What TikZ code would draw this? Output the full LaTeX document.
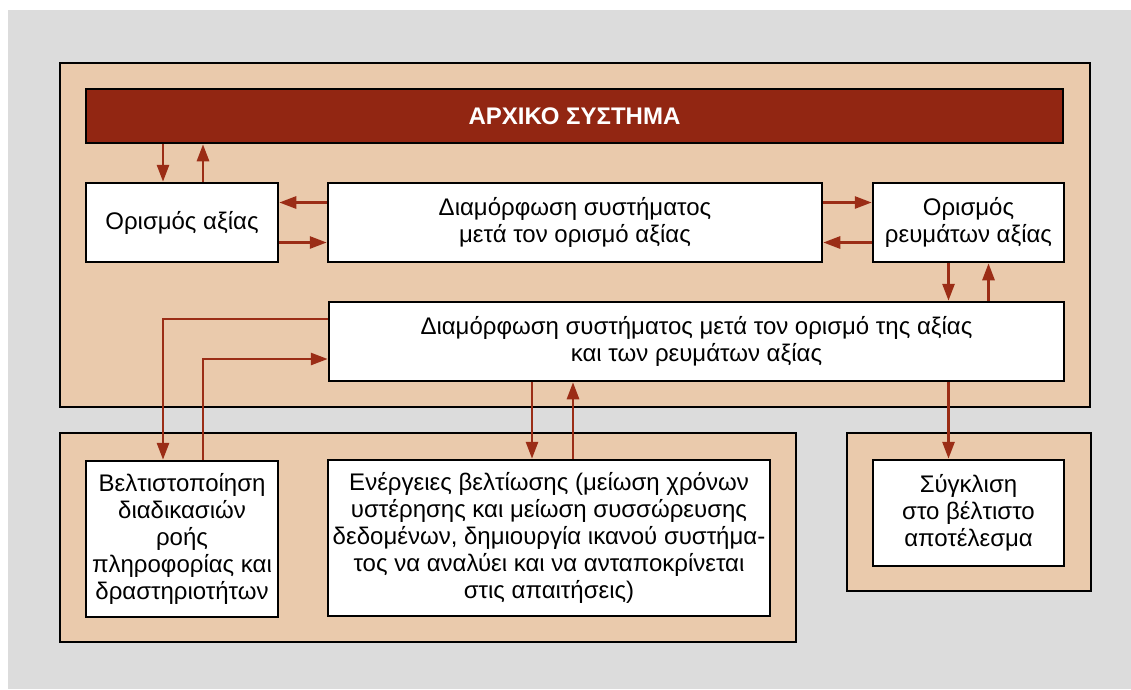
\documentclass[tikz,border=0pt]{standalone}
\usepackage{fontspec}
\setmainfont{Liberation Sans}
\usetikzlibrary{arrows.meta}
\definecolor{pagegray}{RGB}{220,220,220}
\definecolor{panelfill}{RGB}{234,202,172}
\definecolor{titlered}{RGB}{146,38,18}
\definecolor{flowred}{RGB}{155,45,22}

\begin{document}
\begin{tikzpicture}[x=1pt,y=-1pt,
  panelbox/.style={draw=black, line width=2.5pt, fill=panelfill},
  stagebox/.style={draw=black, line width=2.5pt, fill=white, align=center,
    inner sep=0pt, font=\fontsize{24}{27}\selectfont},
  titlebox/.style={draw=black, line width=2.5pt, fill=titlered, text=white,
    inner sep=0pt, font=\fontsize{24}{27}\selectfont\bfseries},
  flowarrow/.style={draw=flowred, line width=2.8pt,
    -{Triangle[length=17pt,width=12pt]}},
]
\useasboundingbox (0,0) rectangle (1131,689);
\fill[white] (0,0) rectangle (1131,689);
\fill[pagegray] (8,10) rectangle (1131,689);

% three background panels
\draw[panelbox] (60,63) rectangle (1090,407);
\draw[panelbox] (60,433) rectangle (796,642);
\draw[panelbox] (847,433) rectangle (1091,591);

% stages
\node[titlebox, minimum width=977pt, minimum height=54pt] (title) at (574.5,116) {ΑΡΧΙΚΟ ΣΥΣΤΗΜΑ};
\node[stagebox, minimum width=192pt, minimum height=79pt] (val) at (182,222.5) {Ορισμός αξίας};
\node[stagebox, minimum width=494pt, minimum height=79pt] (conf1) at (575,222.5)
  {Διαμόρφωση συστήματος\\μετά τον ορισμό αξίας};
\node[stagebox, minimum width=191pt, minimum height=79pt] (streams) at (968.5,222.5)
  {Ορισμός\\ρευμάτων αξίας};
\node[stagebox, minimum width=735pt, minimum height=79pt] (conf2) at (696.5,341.5)
  {Διαμόρφωση συστήματος μετά τον ορισμό της αξίας\\και των ρευμάτων αξίας};
\node[stagebox, minimum width=192pt, minimum height=156pt] (opt) at (182,539)
  {Βελτιστοποίηση\\διαδικασιών\\ροής\\πληροφορίας και\\δραστηριοτήτων};
\node[stagebox, minimum width=442pt, minimum height=156pt] (act) at (549,538)
  {Ενέργειες βελτίωσης (μείωση χρόνων\\υστέρησης και μείωση συσσώρευσης\\δεδομένων, δημιουργία ικανού συστήμα-\\τος να αναλύει και να ανταποκρίνεται\\στις απαιτήσεις)};
\node[stagebox, minimum width=191pt, minimum height=106pt] (conv) at (968.5,513)
  {Σύγκλιση\\στο βέλτιστο\\αποτέλεσμα};

% connectors
\draw[flowarrow] ([xshift=-19pt]val.north |- title.south) -- ([xshift=-19pt]val.north);
\draw[flowarrow] ([xshift=21pt]val.north) -- ([xshift=21pt]val.north |- title.south);

\draw[flowarrow] ([yshift=20pt]conf1.west) -- ([yshift=20pt]conf1.west -| val.east);
\draw[flowarrow] ([yshift=-20pt]val.east) -- ([yshift=-20pt]val.east -| conf1.west);

\draw[flowarrow] ([yshift=20pt]conf1.east) -- ([yshift=20pt]conf1.east -| streams.west);
\draw[flowarrow] ([yshift=-20pt]streams.west) -- ([yshift=-20pt]streams.west -| conf1.east);

\draw[flowarrow] ([xshift=-20pt]streams.south) -- ([xshift=-20pt]streams.south |- conf2.north);
\draw[flowarrow] ([xshift=20pt]streams.south |- conf2.north) -- ([xshift=20pt]streams.south);

\draw[flowarrow] ([xshift=-20pt]conv.north |- conf2.south) -- ([xshift=-20pt]conv.north);

\draw[flowarrow] ([xshift=-17pt]act.north |- conf2.south) -- ([xshift=-17pt]act.north);
\draw[flowarrow] ([xshift=24pt]act.north) -- ([xshift=24pt]act.north |- conf2.south);

\draw[flowarrow] ([yshift=22.5pt]conf2.west) -| ([xshift=-19pt]opt.north);
\draw[flowarrow] ([xshift=21pt]opt.north) |- ([yshift=-17.5pt]conf2.west);
\end{tikzpicture}
\end{document}
